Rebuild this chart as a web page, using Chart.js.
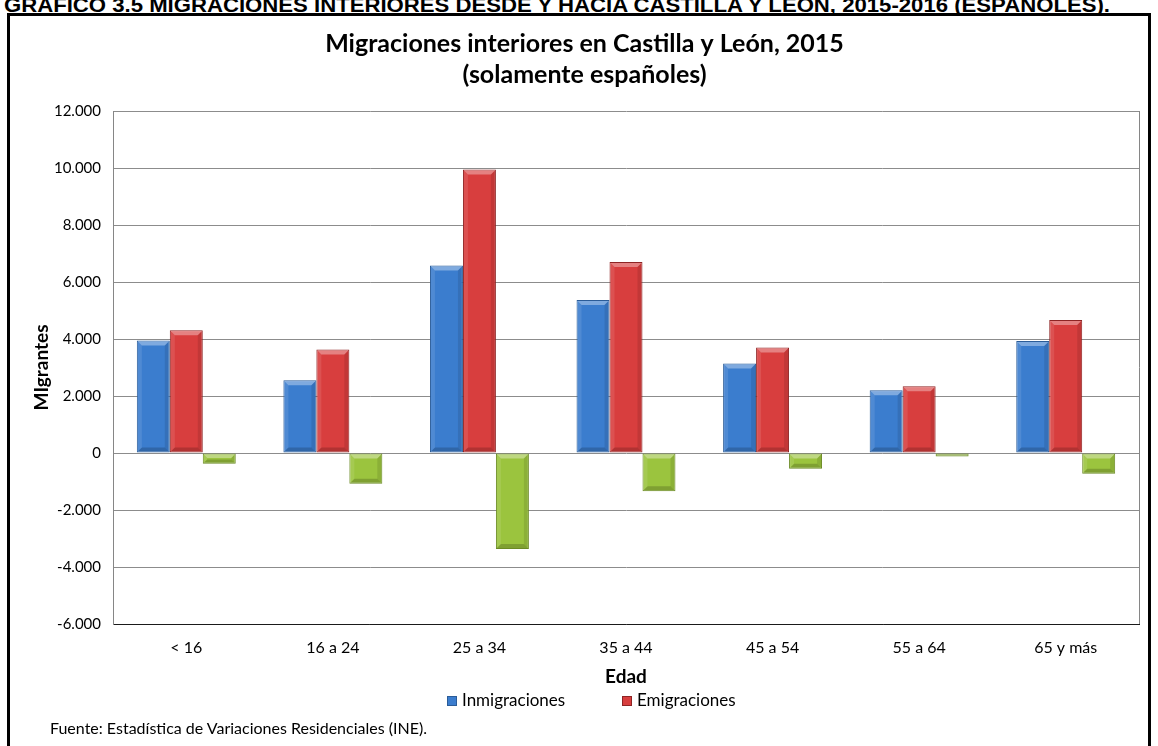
<!DOCTYPE html>
<html><head><meta charset="utf-8">
<script src="https://cdn.jsdelivr.net/npm/chart.js@4.4.1/dist/chart.umd.min.js"></script>
<style>
html,body{margin:0;padding:0;background:#fff;width:1158px;height:746px;overflow:hidden;}
#caption{position:absolute;left:4px;top:-5px;font:bold 20px "Liberation Sans",Arial,sans-serif;line-height:1;white-space:nowrap;transform-origin:0 0;color:#000;}
#frame{position:absolute;left:7px;top:13px;width:1144px;height:780px;border:3px solid #000;box-sizing:border-box;}
#wrap{position:absolute;left:0;top:0;width:1158px;height:746px;}
#legend{position:absolute;top:690px;left:447px;height:20px;font:17px Lato,sans-serif;color:#000;}
.li{position:absolute;top:0;white-space:nowrap;line-height:20px;}
.li span.box{display:inline-block;width:10px;height:10px;margin-right:5px;vertical-align:0px;box-sizing:border-box;}
#foot{position:absolute;left:50px;top:718px;font:16px Lato,sans-serif;color:#000;white-space:nowrap;}
</style></head>
<body>
<div id="caption">GRÁFICO 3.5 MIGRACIONES INTERIORES DESDE Y HACIA CASTILLA Y LEÓN, 2015-2016 (ESPAÑOLES).</div>
<div id="frame"></div>
<div id="wrap"><canvas id="c" width="1158" height="746"></canvas></div>
<div id="legend"></div>
<div id="foot">Fuente: Estadística de Variaciones Residenciales (INE).</div>
<script>
// ---- data ----
const categories = ['< 16', '16 a 24', '25 a 34', '35 a 44', '45 a 54', '55 a 64', '65 y más'];
const inmigraciones = [3950, 2550, 6580, 5370, 3140, 2200, 3930];
const emigraciones  = [4310, 3630, 9950, 6700, 3700, 2340, 4670];
const saldo         = [-380, -1080, -3370, -1340, -550, -120, -730];
const seriesNames = ['Inmigraciones', 'Emigraciones', 'Saldo'];
const yMin = -6000, yMax = 12000, yStep = 2000;
const titleLines = ['Migraciones interiores en Castilla y León, 2015', '(solamente españoles)'];
const xTitle = 'Edad';
const yTitle = 'MIgrantes';

// caption width fit
const cap = document.getElementById('caption');
const cw = cap.getBoundingClientRect().width;
cap.style.transform = 'scaleX(' + (1106 / cw) + ')';

const fmt = v => {
  const s = Math.abs(v).toString().replace(/\B(?=(\d{3})+(?!\d))/g, '.');
  return (v < 0 ? '-' : '') + s;
};

const colors = [
  {fill: '#3b7dce', border: '#2b5c98'},
  {fill: '#d83e3e', border: '#8e2424'},
  {fill: '#9bc43e', border: '#6b8a24'}
];

const bevel = {
  id: 'bevel',
  afterDatasetsDraw(chart) {
    const ctx = chart.ctx;
    chart.data.datasets.forEach((ds, di) => {
      const meta = chart.getDatasetMeta(di);
      meta.data.forEach(bar => {
        const p = bar.getProps(['x', 'y', 'base', 'width'], true);
        const l = p.x - p.width / 2, r = p.x + p.width / 2;
        const t = Math.min(p.y, p.base), b = Math.max(p.y, p.base);
        const h = b - t;
        if (h < 2) return;
        const e = Math.min(4, h / 3);
        ctx.save();
        ctx.fillStyle = 'rgba(255,255,255,0.35)';
        ctx.beginPath();
        ctx.moveTo(l + 1, t + 1); ctx.lineTo(r - 1, t + 1); ctx.lineTo(r - 1 - e, t + 1 + e); ctx.lineTo(l + 1 + e, t + 1 + e); ctx.closePath(); ctx.fill();
        ctx.fillStyle = 'rgba(0,0,0,0.18)';
        ctx.beginPath();
        ctx.moveTo(l + 1, b - 1); ctx.lineTo(r - 1, b - 1); ctx.lineTo(r - 1 - e, b - 1 - e); ctx.lineTo(l + 1 + e, b - 1 - e); ctx.closePath(); ctx.fill();
        ctx.fillStyle = 'rgba(0,0,0,0.10)';
        ctx.beginPath();
        ctx.moveTo(r - 1, t + 1); ctx.lineTo(r - 1, b - 1); ctx.lineTo(r - 1 - e, b - 1 - e); ctx.lineTo(r - 1 - e, t + 1 + e); ctx.closePath(); ctx.fill();
        ctx.fillStyle = 'rgba(255,255,255,0.10)';
        ctx.beginPath();
        ctx.moveTo(l + 1, t + 1); ctx.lineTo(l + 1, b - 1); ctx.lineTo(l + 1 + e, b - 1 - e); ctx.lineTo(l + 1 + e, t + 1 + e); ctx.closePath(); ctx.fill();
        ctx.restore();
      });
    });
  }
};

const plotBorder = {
  id: 'plotBorder',
  afterDraw(chart) {
    const a = chart.chartArea, ctx = chart.ctx;
    ctx.save();
    ctx.strokeStyle = '#868686';
    ctx.lineWidth = 1;
    ctx.beginPath();
    ctx.moveTo(Math.round(a.right) + 0.5, a.top);
    ctx.lineTo(Math.round(a.right) + 0.5, a.bottom);
    ctx.stroke();
    ctx.restore();
  }
};

const htmlLegend = {
  id: 'htmlLegend',
  afterUpdate(chart) {
    const el = document.getElementById('legend');
    el.innerHTML = '';
    const offsets = [0, 175];
    chart.data.datasets.slice(0, 2).forEach((ds, i) => {
      const d = document.createElement('div');
      d.className = 'li';
      d.style.left = offsets[i] + 'px';
      const b = document.createElement('span');
      b.className = 'box';
      b.style.background = ds.backgroundColor;
      b.style.border = '1px solid ' + ds.borderColor;
      d.appendChild(b);
      d.appendChild(document.createTextNode(ds.label));
      el.appendChild(d);
    });
  }
};

const series = [inmigraciones, emigraciones, saldo];
new Chart(document.getElementById('c'), {
  type: 'bar',
  data: {
    labels: categories,
    datasets: series.map((s, i) => ({
      label: seriesNames[i],
      data: s,
      backgroundColor: colors[i].fill,
      borderColor: colors[i].border,
      borderWidth: 1,
      borderSkipped: false,
      categoryPercentage: 0.675,
      barPercentage: 1.0
    }))
  },
  options: {
    responsive: false,
    animation: false,
    events: [],
    layout: {padding: {top: 20, left: 30, right: 19, bottom: 58}},
    plugins: {
      legend: {display: false},
      tooltip: {enabled: false},
      title: {
        display: true,
        text: titleLines,
        color: '#000',
        font: {family: 'Lato', size: 25, weight: 'bold', lineHeight: 1.24},
        padding: {top: 8, bottom: 21}
      }
    },
    scales: {
      x: {
        grid: {display: false, drawTicks: false},
        border: {display: true, color: '#1a1a1a', width: 1},
        ticks: {color: '#000', font: {family: 'Lato', size: 16}, padding: 14, maxRotation: 0},
        title: {display: true, text: xTitle, color: '#000', font: {family: 'Lato', size: 19, weight: 'bold'}, padding: {top: 0, bottom: 0}},
        afterFit(s) { s.height = 64; }
      },
      y: {
        min: yMin, max: yMax,
        ticks: {stepSize: yStep, color: '#000', font: {family: 'Lato', size: 15}, padding: 12, callback: v => fmt(v)},
        grid: {color: '#8c8c8c', lineWidth: 1, drawTicks: false},
        border: {display: true, color: '#868686'},
        title: {display: true, text: yTitle, color: '#000', font: {family: 'Lato', size: 19, weight: 'bold'}, padding: {top: 0, bottom: 0}},
        afterFit(s) { s.width = 83; }
      }
    }
  },
  plugins: [bevel, plotBorder, htmlLegend]
});
</script>
</body></html>
